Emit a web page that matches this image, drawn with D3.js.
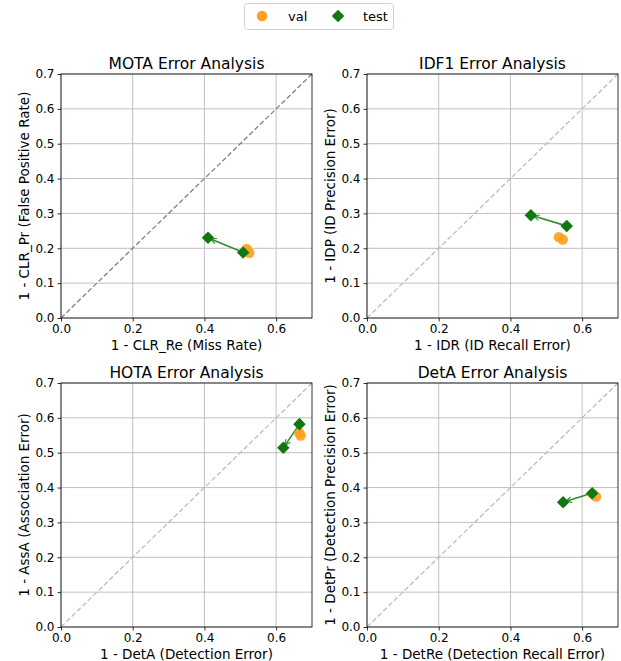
<!DOCTYPE html>
<html><head><meta charset="utf-8">
<script src="https://cdn.jsdelivr.net/npm/d3@7"></script>
<style>body{margin:0;background:#fff;} svg{display:block;font-family:"DejaVu Sans",sans-serif;}</style>
</head><body>
<script>
const panelTitles = ["MOTA Error Analysis","IDF1 Error Analysis","HOTA Error Analysis","DetA Error Analysis"];
const xLabels = ["1 - CLR_Re (Miss Rate)","1 - IDR (ID Recall Error)","1 - DetA (Detection Error)","1 - DetRe (Detection Recall Error)"];
const yLabels = ["1 - CLR_Pr (False Positive Rate)","1 - IDP (ID Precision Error)","1 - AssA (Association Error)","1 - DetPr (Detection Precision Error)"];
const valPoints = [
  [[0.518,0.198],[0.525,0.187]],
  [[0.535,0.232],[0.546,0.225]],
  [[0.665,0.556],[0.668,0.549]],
  [[0.630,0.381],[0.639,0.374]]
];
const testPoints = [
  [[0.410,0.230],[0.508,0.188]],
  [[0.457,0.295],[0.557,0.264]],
  [[0.620,0.514],[0.665,0.582]],
  [[0.547,0.358],[0.628,0.384]]
];
const diagColors = ["#808080","#bdbdbd","#bdbdbd","#bdbdbd"];
const xTicks = [0.0,0.2,0.4,0.6];
const yTicks = [0.0,0.1,0.2,0.3,0.4,0.5,0.6,0.7];

const W=621,H=661;
const svg=d3.select("body").append("svg").attr("width",W).attr("height",H);
const orange="#ff9f1c", green="#117711", arrowGreen="#2f8f2f";

const lefts=[61,367], tops=[74,383], pw=251, ph=244;

svg.append("defs").append("marker").attr("id","ah").attr("viewBox","0 0 10 10")
  .attr("refX",9).attr("refY",5).attr("markerWidth",7).attr("markerHeight",7)
  .attr("markerUnits","userSpaceOnUse").attr("orient","auto")
  .append("path").attr("d","M1,1 L9,5 L1,9").attr("fill","none").attr("stroke",arrowGreen).attr("stroke-width",1.6);

for(let i=0;i<4;i++){
  const x0=lefts[i%2], y0=tops[Math.floor(i/2)];
  const x=d3.scaleLinear().domain([0,0.7]).range([x0,x0+pw]);
  const y=d3.scaleLinear().domain([0,0.7]).range([y0+ph,y0]);
  const g=svg.append("g");
  g.selectAll(".gx").data(xTicks).join("line").attr("x1",d=>x(d)).attr("x2",d=>x(d))
    .attr("y1",y0).attr("y2",y0+ph).attr("stroke","#b0b0b0").attr("stroke-width",0.8);
  g.selectAll(".gy").data(yTicks).join("line").attr("y1",d=>y(d)).attr("y2",d=>y(d))
    .attr("x1",x0).attr("x2",x0+pw).attr("stroke","#b0b0b0").attr("stroke-width",0.8);
  g.append("line").attr("x1",x(0)).attr("y1",y(0)).attr("x2",x(0.7)).attr("y2",y(0.7))
    .attr("stroke",diagColors[i]).attr("stroke-width",1.3).attr("stroke-dasharray","5,2.5");
  const ax=g.append("g").attr("transform",`translate(0,${y0+ph})`)
    .call(d3.axisBottom(x).tickValues(xTicks).tickFormat(d3.format(".1f")).tickSize(3.5).tickPadding(3));
  const ay=g.append("g").attr("transform",`translate(${x0},0)`)
    .call(d3.axisLeft(y).tickValues(yTicks).tickFormat(d3.format(".1f")).tickSize(3.5).tickPadding(3));
  [ax,ay].forEach(a=>{a.select(".domain").remove();a.selectAll("text").attr("font-size",12).attr("fill","#000").attr("font-family","DejaVu Sans");a.selectAll("line").attr("stroke","#000").attr("stroke-width",0.8);});
  g.append("rect").attr("x",x0).attr("y",y0).attr("width",pw).attr("height",ph)
    .attr("fill","none").attr("stroke","#000").attr("stroke-width",0.8);
  const t=testPoints[i], a0=t[1], a1=t[0];
  const sx=x(a0[0]),sy=y(a0[1]),ex=x(a1[0]),ey=y(a1[1]);
  const L=Math.hypot(ex-sx,ey-sy), ux=(ex-sx)/L, uy=(ey-sy)/L;
  g.append("line").attr("x1",sx+ux*3).attr("y1",sy+uy*3).attr("x2",ex-ux*3).attr("y2",ey-uy*3)
    .attr("stroke",arrowGreen).attr("stroke-width",1.6).attr("marker-end","url(#ah)");
  g.selectAll(".v").data(valPoints[i]).join("circle").attr("cx",d=>x(d[0])).attr("cy",d=>y(d[1]))
    .attr("r",5.2).attr("fill",orange).attr("opacity",0.9);
  g.selectAll(".t").data(t).join("path")
    .attr("d",d3.symbol().type(d3.symbolDiamond2).size(100))
    .attr("transform",d=>`translate(${x(d[0])},${y(d[1])})`)
    .attr("fill",green);
  g.append("text").attr("x",x0+pw/2).attr("y",y0-5).attr("text-anchor","middle").attr("font-size",15.5).text(panelTitles[i]);
  g.append("text").attr("x",x0+pw/2).attr("y",y0+ph+32).attr("text-anchor","middle").attr("font-size",13.5).text(xLabels[i]);
  g.append("text").attr("transform",`translate(${x0-32},${y0+ph/2}) rotate(-90)`).attr("text-anchor","middle").attr("font-size",13.5).text(yLabels[i]);
}
const lg=svg.append("g");
lg.append("rect").attr("x",244.5).attr("y",3.5).attr("width",149).attr("height",26).attr("rx",3)
  .attr("fill","#fff").attr("stroke","#d0d0d0");
lg.append("circle").attr("cx",262).attr("cy",16).attr("r",5.2).attr("fill",orange);
lg.append("text").attr("x",288).attr("y",21).attr("font-size",13).text("val");
lg.append("path").attr("d",d3.symbol().type(d3.symbolDiamond2).size(100)).attr("transform","translate(338,16)").attr("fill",green);
lg.append("text").attr("x",363).attr("y",21).attr("font-size",13).text("test");
</script>
</body></html>
